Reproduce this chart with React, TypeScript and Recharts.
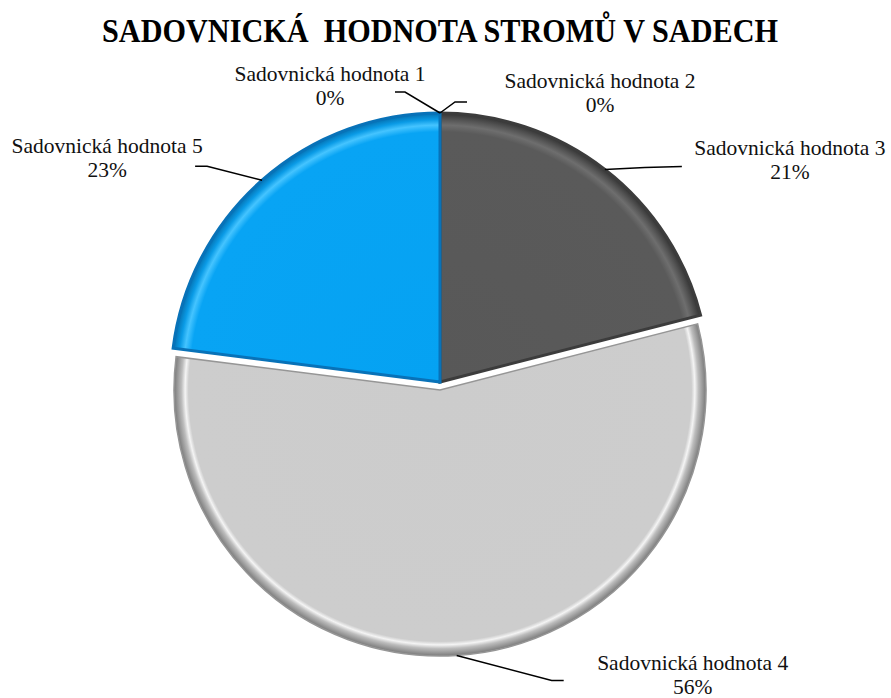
import React from 'react';
import { PieChart, Pie, Cell } from 'recharts';

const categories = [
  'Sadovnická hodnota 1',
  'Sadovnická hodnota 2',
  'Sadovnická hodnota 3',
  'Sadovnická hodnota 4',
  'Sadovnická hodnota 5',
];
const shares = [0, 0, 21, 56, 23];
const explodedIndex = 3;
const title = 'SADOVNICKÁ  HODNOTA STROMŮ V SADECH';

const data = categories.map((name, i) => ({ name, value: shares[i] }));

const fills = ['#4472c4', '#ed7d31', 'url(#gDark)', 'url(#gLight)', 'url(#gBlue)'];
const strokes = ['none', 'none', '#3c3c3c', '#969696', '#0872b8'];

// leader line / text offsets relative to slice edge point (annotation layout)
const labelLayout = [
  { elbow: [-35, -21], end: [-45, -21], text: [-110, -32] },
  { elbow: [15, -11], end: [27, -11], text: [160, -25] },
  { elbow: [40, -2], end: [77, -3], text: [185, -14] },
  { elbow: [95, 25], end: [107, 25], text: [236, 15] },
  { elbow: [-55, -14], end: [-67, -14], text: [-155, -27] },
];

const W = 891;
const H = 698;
const CX = 440;
const CY = 382;
const R = 269;
const EXPLODE = 8;
const R_EXP = 266;
const RAD = Math.PI / 180;
const SERIF = 'Liberation Serif, Times New Roman, serif';

const makeLabel = (show: (i: number) => boolean) => (props: any) => {
  const { cx, cy, midAngle, outerRadius, percent, index, name } = props;
  if (!show(index)) return null;
  const ex = cx + outerRadius * Math.cos(-midAngle * RAD);
  const ey = cy + outerRadius * Math.sin(-midAngle * RAD);
  const L = labelLayout[index];
  const tx = ex + L.text[0];
  const ty = ey + L.text[1];
  return (
    <g key={'lbl' + index} style={{ fontFamily: SERIF }}>
      <polyline
        points={`${ex},${ey} ${ex + L.elbow[0]},${ey + L.elbow[1]} ${ex + L.end[0]},${ey + L.end[1]}`}
        fill="none"
        stroke="#000"
        strokeWidth={1.5}
      />
      <text x={tx} y={ty} textAnchor="middle" style={{ fontFamily: SERIF, fontSize: 21.5, fill: '#111' }}>
        {name}
      </text>
      <text x={tx} y={ty + 24} textAnchor="middle" style={{ fontFamily: SERIF, fontSize: 21.5, fill: '#111' }}>
        {Math.round(percent * 100) + '%'}
      </text>
    </g>
  );
};

export default function App() {
  return (
    <div style={{ position: 'absolute', left: 0, top: 0, width: W, height: H, background: '#fff', fontFamily: SERIF }}>
      <svg width={W} height={60} style={{ position: 'absolute', left: 0, top: 0 }}>
        <text
          x={102}
          y={42}
          textLength={676}
          lengthAdjust="spacingAndGlyphs"
          style={{ whiteSpace: 'pre', fontFamily: SERIF, fontWeight: 'bold', fontSize: 34, fill: '#000' }}
        >
          {title}
        </text>
      </svg>
      <div style={{ position: 'absolute', left: 0, top: 0 }}>
        <PieChart width={W} height={H} margin={{ top: 0, right: 0, bottom: 0, left: 0 }}>
          <defs>
            <radialGradient id="gDark" gradientUnits="userSpaceOnUse" cx={CX} cy={CY} r={R}>
              <stop offset="0" stopColor="#585858" />
              <stop offset="0.93" stopColor="#5a5a5a" />
              <stop offset="0.955" stopColor="#6e6e6e" />
              <stop offset="0.975" stopColor="#555555" />
              <stop offset="1" stopColor="#333333" />
            </radialGradient>
            <radialGradient id="gBlue" gradientUnits="userSpaceOnUse" cx={CX} cy={CY} r={R}>
              <stop offset="0" stopColor="#05a2f2" />
              <stop offset="0.93" stopColor="#08a4f4" />
              <stop offset="0.955" stopColor="#45c4ff" />
              <stop offset="0.975" stopColor="#0a9be6" />
              <stop offset="1" stopColor="#0570b0" />
            </radialGradient>
            <radialGradient id="gLight" gradientUnits="userSpaceOnUse" cx={CX} cy={CY + EXPLODE} r={R_EXP}>
              <stop offset="0" stopColor="#cccccc" />
              <stop offset="0.945" stopColor="#cdcdcd" />
              <stop offset="0.958" stopColor="#f4f4f4" />
              <stop offset="0.972" stopColor="#bdbdbd" />
              <stop offset="1" stopColor="#7a7a7a" />
            </radialGradient>
          </defs>
          <Pie
            data={data}
            dataKey="value"
            nameKey="name"
            cx={CX}
            cy={CY + EXPLODE}
            outerRadius={R_EXP}
            startAngle={90}
            endAngle={-270}
            isAnimationActive={false}
            labelLine={false}
            label={makeLabel((i) => i === explodedIndex)}
          >
            {data.map((d, i) => (
              <Cell
                key={'b' + i}
                fill={i === explodedIndex ? fills[i] : 'none'}
                stroke={i === explodedIndex ? strokes[i] : 'none'}
                strokeWidth={1.5}
              />
            ))}
          </Pie>
          <Pie
            data={data}
            dataKey="value"
            nameKey="name"
            cx={CX}
            cy={CY}
            outerRadius={R}
            startAngle={90}
            endAngle={-270}
            isAnimationActive={false}
            labelLine={false}
            label={makeLabel((i) => i !== explodedIndex)}
          >
            {data.map((d, i) => (
              <Cell
                key={'a' + i}
                fill={i === explodedIndex ? 'none' : fills[i]}
                stroke={i === explodedIndex ? 'none' : strokes[i]}
                strokeWidth={3}
              />
            ))}
          </Pie>
        </PieChart>
      </div>
    </div>
  );
}
